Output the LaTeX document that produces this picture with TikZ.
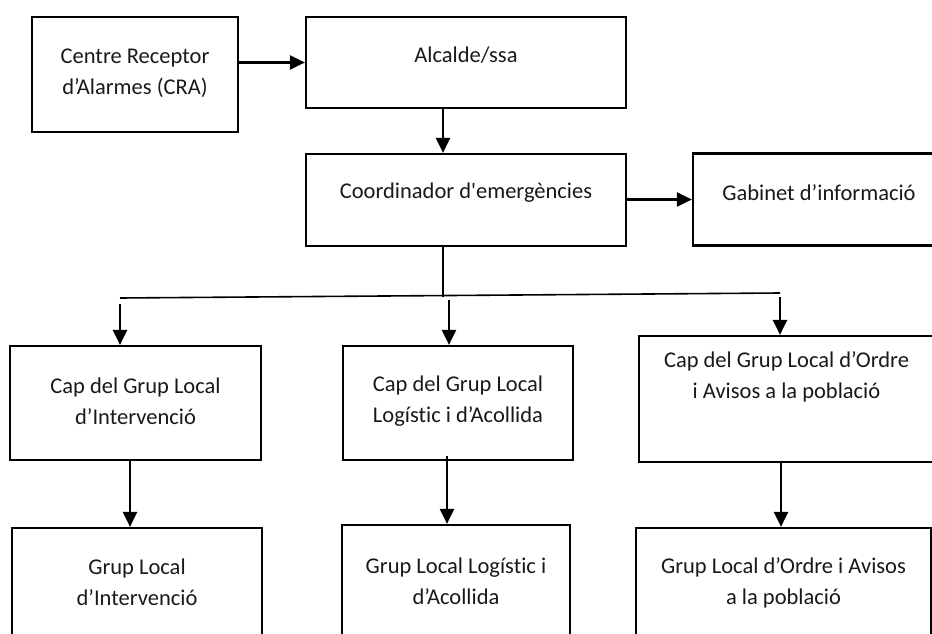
\documentclass[tikz,border=0pt]{standalone}
\usepackage{fontspec}
\setmainfont{Carlito}[Ligatures={TeX,NoCommon}]
\usetikzlibrary{arrows.meta}

\tikzset{
  box/.style={draw, rectangle, line width=2.2pt, inner sep=0pt},
  txt/.style={align=center, inner sep=0pt, text=black!90, font=\fontsize{22.5}{31}\selectfont},
  arr/.style={arrows={-Triangle[length=15pt, width=14pt]}, line width=2.4pt},
}

\begin{document}
\begin{tikzpicture}[x=1pt, y=-1pt]
    \useasboundingbox (0,0) rectangle (932,634);
    \clip (0,0) rectangle (932,634);

    \node [box, minimum width=206, minimum height=115] (cra) at (135,74.5) {};
    \node [box, minimum width=320, minimum height=91] (alc) at (466,62.5) {};
    \node [box, minimum width=320, minimum height=92] (coord) at (466,200) {};
    \node [box, minimum width=252, minimum height=92] (gab) at (819,199.5) {};
    \node [box, minimum width=251, minimum height=114] (capint) at (135.5,403) {};
    \node [box, minimum width=230, minimum height=114] (caplog) at (458,403) {};
    \node [box, minimum width=295, minimum height=126] (capord) at (786.5,399) {};
    \node [box, minimum width=250, minimum height=114] (grint) at (137,585) {};
    \node [box, minimum width=228, minimum height=114] (grlog) at (456,582) {};
    \node [box, minimum width=295, minimum height=114] (grord) at (783.5,585) {};

    \node [txt] (cra-t) at (135,73) {Centre Receptor\\d’Alarmes (CRA)};
    \node [txt] (alc-t) at (466,55) {Alcalde/ssa};
    \node [txt] (coord-t) at (466,193) {Coordinador d\textquotesingle emergències};
    \node [txt] (gab-t) at (819,193) {Gabinet d’informació};
    \node [txt] (capint-t) at (135.5,401) {Cap del Grup Local\\d’Intervenció};
    \node [txt] (caplog-t) at (458,401) {Cap del Grup Local\\Logístic i d’Acollida};
    \node [txt] (capord-t) at (786.5,377) {Cap del Grup Local d’Ordre\\i Avisos a la població};
    \node [txt] (grint-t) at (137,582) {Grup Local\\d’Intervenció};
    \node [txt] (grlog-t) at (456,581) {Grup Local Logístic i\\d’Acollida};
    \node [txt] (grord-t) at (783.5,583) {Grup Local d’Ordre i Avisos\\a la població};

    \coordinate (split) at (443,297);
    \coordinate (BL) at (120,298);
    \coordinate (BR) at (780,293);

    \draw [arr] (cra.east |- alc) -- (alc.west);
    \draw [arr] ([xshift=-23]alc.south) -- ([xshift=-23]coord.north);
    \draw [arr] (coord.east |- gab) -- (gab.west);
    \draw [line width=1.6pt] ([xshift=-23]coord.south) -- (split);
    \draw [line width=1.6pt] (BL) -- (BR);
    \draw [arr] ([yshift=-6]BL) -- ([xshift=-15.5]capint.north);
    \draw [arr] (449,300) -- ([xshift=-9]caplog.north);
    \draw [arr] ([yshift=-4]BR) -- ([xshift=-6.5]capord.north);
    \draw [arr] ([xshift=-5.5]capint.south) -- ([xshift=-7]grint.north);
    \draw [arr] ([xshift=-11,yshift=5]caplog.south) -- ([xshift=-9]grlog.north);
    \draw [arr] ([xshift=-5.5]capord.south) -- ([xshift=-2.5]grord.north);
\end{tikzpicture}
\end{document}
